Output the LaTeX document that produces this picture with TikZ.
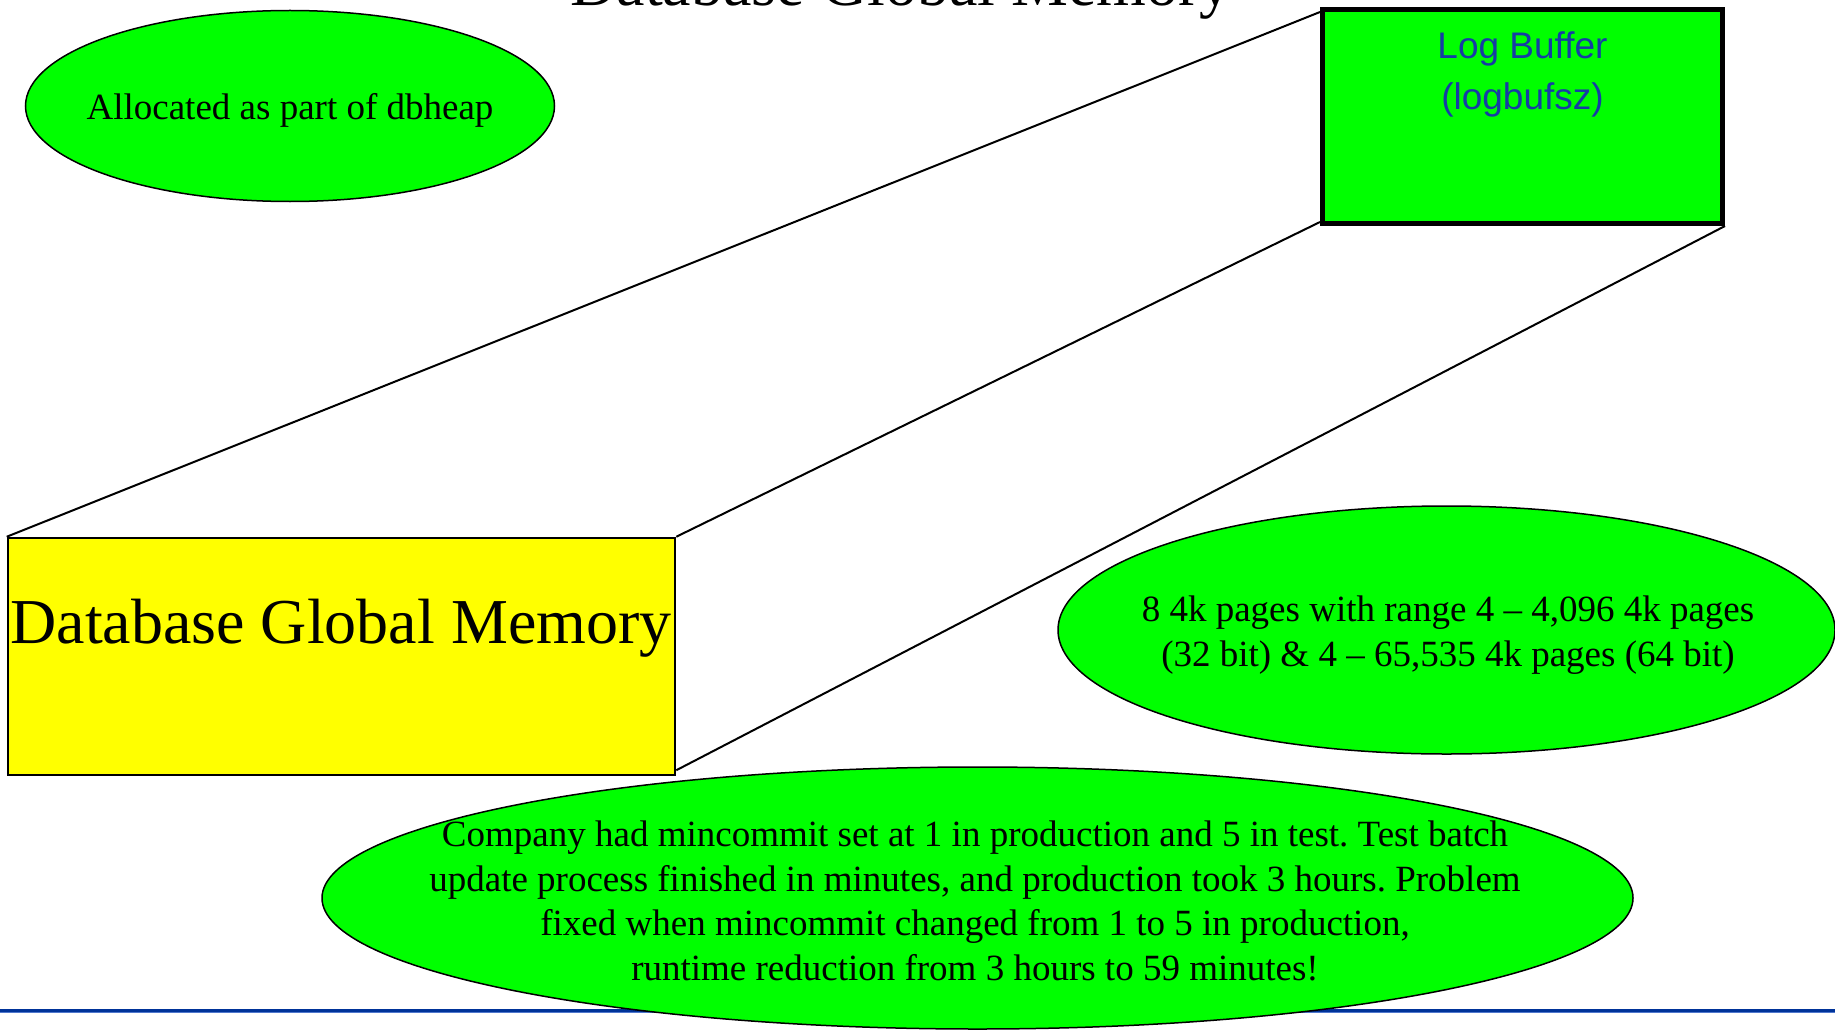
\documentclass[tikz,border=0pt]{standalone}
\usepackage{fontspec}
\setmainfont{Liberation Serif}
\newfontfamily\bufsans{Liberation Sans}
\usetikzlibrary{shapes.geometric,positioning,calc}
\definecolor{ovalgreen}{RGB}{0,255,0}
\definecolor{memyellow}{RGB}{255,255,0}
\definecolor{bufblue}{RGB}{22,60,165}
\definecolor{ruleblue}{RGB}{0,51,153}
\definecolor{rulelight}{RGB}{80,120,205}
\frenchspacing
\tikzset{
  greenoval/.style={ellipse,draw=black,line width=1.5pt,fill=ovalgreen,inner sep=0pt},
  ovaltext/.style={align=center,inner sep=0pt,font=\fontsize{37}{44.5}\selectfont},
  membox/.style={draw=black,line width=2.5pt,fill=memyellow,inner sep=0pt},
  logbox/.style={draw=black,line width=5pt,fill=ovalgreen,inner sep=0pt},
  bigtext/.style={inner sep=0pt,font=\fontsize{64}{70}\selectfont},
  zoomline/.style={draw=black,line width=2pt}
}
\begin{document}
\begin{tikzpicture}[x=1pt,y=-1pt]
\useasboundingbox (0,0) rectangle (1835,1030);

% title, mostly cut off at the top
\node[bigtext] (title) at (901,-10) {Database Global Memory};

\node[greenoval,minimum width=529,minimum height=191] (heapoval) at (290,106) {};
\node[ovaltext] (heaptext) at (290,110) {Allocated as part of dbheap};

% the zoomed-out log buffer
\node[membox,minimum width=667,minimum height=237] (dbmem) at (341.5,656.5) {};
\node[bigtext] (dbmemtext) at (341,628) {Database Global Memory};

\node[logbox,minimum width=400,minimum height=214] (logbuf) at (1522.5,116.5) {};
\node[align=center,inner sep=0pt,text=bufblue,
  font=\bufsans\fontsize{37}{51}\selectfont] (buflabel) at (1522.5,74)
  {Log Buffer\\(logbufsz)};

\draw[zoomline] (dbmem.north west) -- ($(logbuf.north west)+(0,5)$);
\draw[zoomline] (dbmem.north east) -- ($(logbuf.south west)+(0,-4)$);
\draw[zoomline] ($(dbmem.south east)+(0,-6)$) -- (logbuf.south east);

\node[greenoval,minimum width=777,minimum height=248] (sizeoval) at (1446.5,630) {};
\node[ovaltext] (sizetext) at (1448,635)
  {8 4k pages with range 4 -- 4,096 4k pages\\(32 bit) \& 4 -- 65,535 4k pages (64 bit)};

% bottom rule
\draw[ruleblue,line width=3pt] (0,1010.5) -- (1835,1010.5);
\draw[rulelight,line width=1pt] (0,1012.5) -- (1835,1012.5);

\node[greenoval,minimum width=1311,minimum height=262] (fixoval) at (977.5,898) {};
\node[ovaltext] (fixtext) at (975,901)
  {Company had mincommit set at 1 in production and 5 in test. Test batch\\
   update process finished in minutes, and production took 3 hours. Problem\\
   fixed when mincommit changed from 1 to 5 in production,\\
   runtime reduction from 3 hours to 59 minutes!};
\end{tikzpicture}
\end{document}
